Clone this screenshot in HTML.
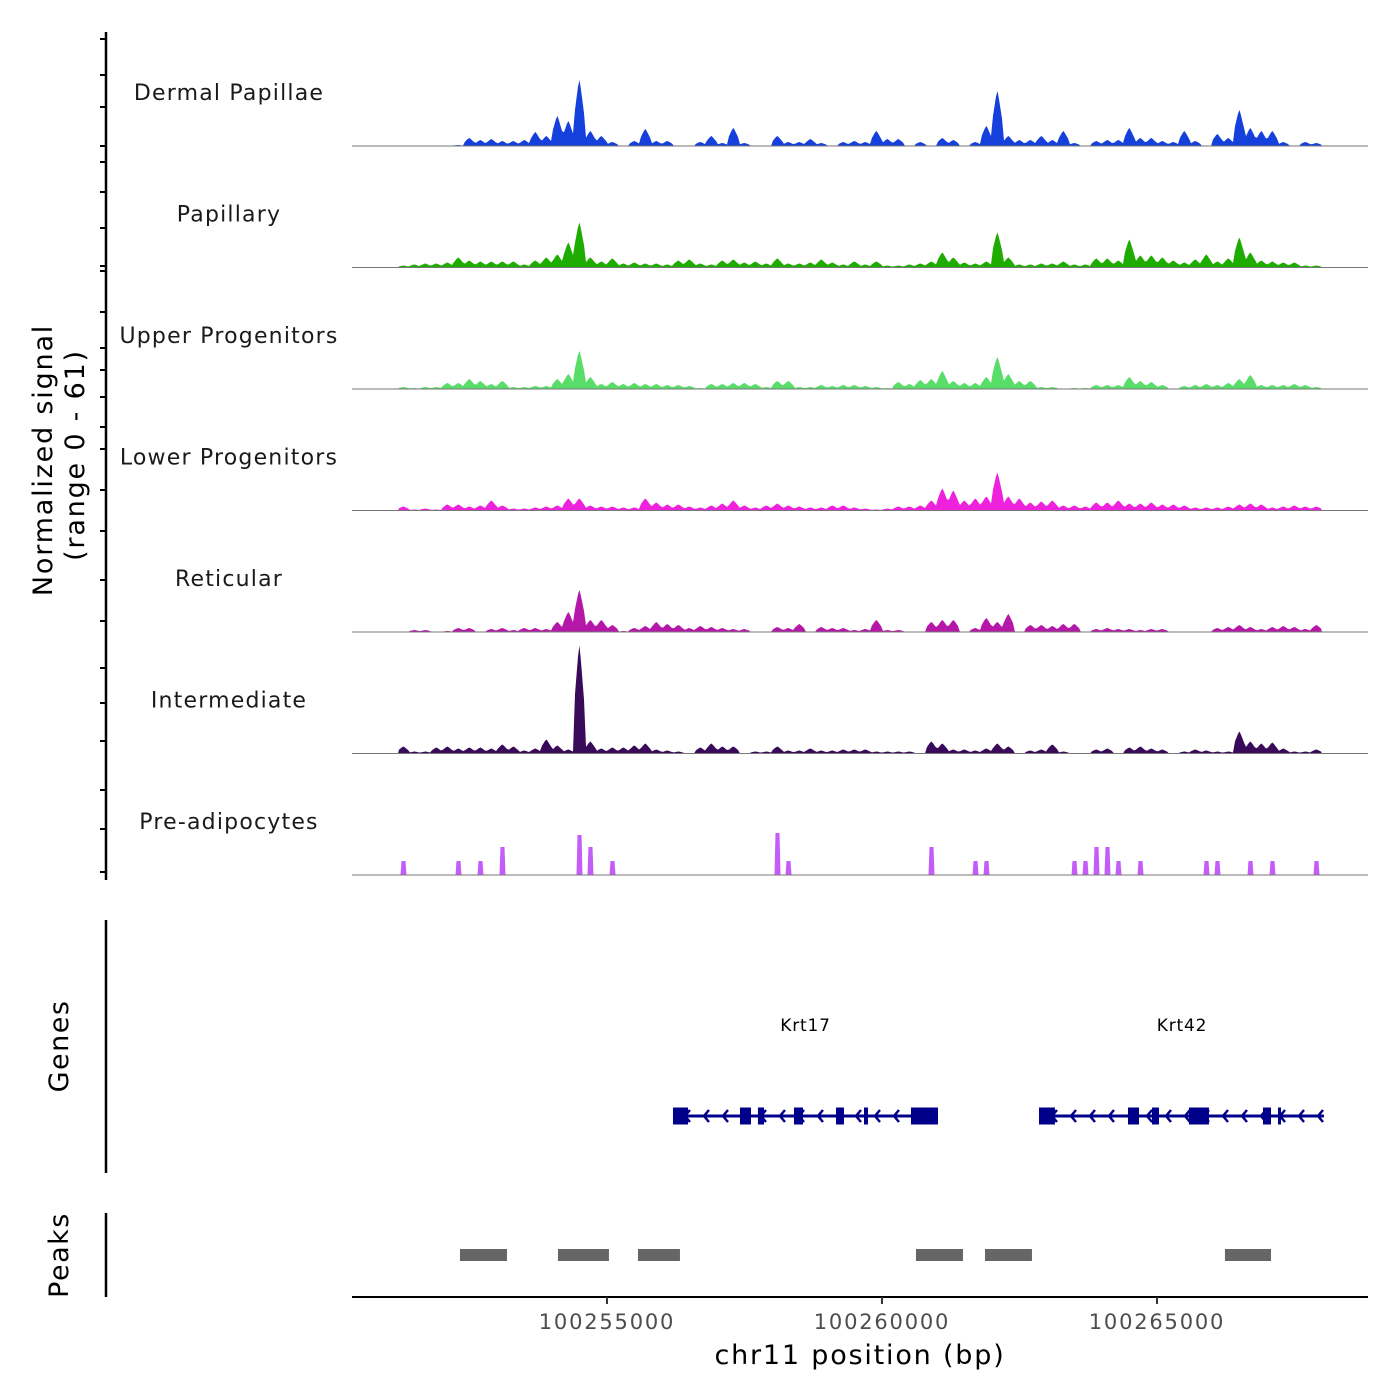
<!DOCTYPE html>
<html><head><meta charset="utf-8"><style>
html,body{margin:0;padding:0;background:#fff;width:1400px;height:1400px;overflow:hidden}
svg{display:block;font-family:"DejaVu Sans","Liberation Sans",sans-serif}
</style></head><body>
<svg id="chart" width="1400" height="1400" viewBox="0 0 1400 1400" xmlns="http://www.w3.org/2000/svg">
<rect x="0" y="0" width="1400" height="1400" fill="#fff"/>
<g id="tracks"></g>
<g id="left">
<line x1="106" y1="32" x2="106" y2="880" stroke="#000" stroke-width="2.5"/>
<line x1="106" y1="920" x2="106" y2="1173" stroke="#000" stroke-width="2.5"/>
<line x1="106" y1="1213" x2="106" y2="1297" stroke="#000" stroke-width="2.5"/>
<text transform="translate(52,460) rotate(-90)" text-anchor="middle" font-size="27" letter-spacing="1.8" fill="#000">Normalized signal</text>
<text transform="translate(84,455) rotate(-90)" text-anchor="middle" font-size="27" letter-spacing="1.8" fill="#000">(range 0 - 61)</text>
<text transform="translate(68,1046) rotate(-90)" text-anchor="middle" font-size="27" letter-spacing="1.5" fill="#000">Genes</text>
<text transform="translate(68,1255) rotate(-90)" text-anchor="middle" font-size="27" letter-spacing="1.5" fill="#000">Peaks</text>
</g>
<g id="genes"></g>
<g id="peaks"></g>
<g id="xaxis">
<line x1="352" y1="1297" x2="1368" y2="1297" stroke="#000" stroke-width="2"/>
<text x="860" y="1364" text-anchor="middle" font-size="27" letter-spacing="1.8" fill="#000">chr11 position (bp)</text>
</g>
</svg>
<script>
const NS = "http://www.w3.org/2000/svg";
const trackNames = ["Dermal Papillae","Papillary","Upper Progenitors","Lower Progenitors","Reticular","Intermediate","Pre-adipocytes"];
const trackColors = ["#1540dc","#1fac00","#58de68","#ee22dd","#b517a8","#3a0a5a","#c35cf8"];
const binStart = 100251200;
const binSize = 200;
const dermalPapillae = [0,0,0,0,0,1,8,6,7,5, 5,6,14,10,30,25,66,15,10,4, 0,5,17,5,5,0,0,4,10,3, 18,3,0,0,10,4,4,7,3,0, 4,5,4,15,7,7,0,4,0,8, 6,0,4,20,55,10,6,6,10,6, 15,3,0,5,6,6,18,8,8,5, 4,15,5,0,12,8,36,18,15,15, 4,0,4,3];
const papillary = [2,3,4,4,5,10,7,6,6,6, 6,3,7,10,13,25,45,10,6,9, 4,5,4,4,3,7,8,4,3,7, 8,5,6,4,9,4,4,5,8,5, 3,6,3,6,2,2,3,4,6,15, 10,5,4,6,35,10,3,3,4,4, 6,3,3,9,9,7,28,12,12,10, 7,5,8,13,6,9,30,15,7,6, 5,5,2,2];
const upperProgenitors = [2,1,2,2,6,6,10,8,5,8, 2,2,3,3,10,15,38,12,5,7, 5,6,5,5,4,4,3,1,5,5, 6,6,5,2,8,8,2,2,4,3, 4,4,3,2,1,7,5,9,10,18, 8,6,6,12,32,15,8,8,2,2, 0,1,1,4,4,4,12,8,7,4, 0,3,4,5,4,6,10,14,4,4, 4,5,4,2];
const lowerProgenitors = [4,1,2,1,6,6,4,5,10,5, 2,2,3,4,5,12,12,5,4,4, 3,3,12,8,6,6,4,3,5,7, 10,5,3,5,7,5,4,3,3,5, 5,3,2,1,2,4,4,5,10,22, 20,10,12,14,38,14,12,8,9,10, 5,5,4,8,8,10,7,7,8,6, 6,5,3,3,3,4,6,7,6,3, 4,5,4,4];
const reticular = [0,2,2,0,1,4,4,0,3,4, 2,4,4,3,10,20,42,12,12,7, 1,4,6,10,8,7,4,6,5,4, 3,3,0,0,5,4,8,0,5,4, 4,2,3,12,2,2,0,0,10,12, 12,0,4,14,10,18,0,7,7,6, 8,8,0,3,4,3,3,2,3,3, 0,0,0,0,4,5,7,5,3,5, 6,5,3,7];
const intermediate = [7,2,2,6,7,5,6,6,5,9, 7,3,5,14,8,4,108,12,5,6, 6,8,10,4,3,2,0,6,10,7, 7,0,2,2,7,3,3,5,3,3, 4,4,4,2,2,2,2,0,12,10, 4,4,3,5,10,7,0,3,4,9, 2,0,0,4,5,0,6,7,5,4, 0,2,4,3,2,2,22,12,10,11, 5,2,2,4];
const preAdipocytes = [14,0,0,0,0,14,0,14,0,28, 0,0,0,0,0,0,40,28,0,14, 0,0,0,0,0,0,0,0,0,0, 0,0,0,0,42,14,0,0,0,0, 0,0,0,0,0,0,0,0,28,0, 0,0,14,14,0,0,0,0,0,0, 0,14,14,28,28,14,0,14,0,0, 0,0,0,14,14,0,0,14,0,14, 0,0,0,14];
const trackValues = [dermalPapillae,papillary,upperProgenitors,lowerProgenitors,reticular,intermediate,preAdipocytes];
const yMax = 109;
const xTicks = [100255000,100260000,100265000];
const xTickLabels = ["100255000","100260000","100265000"];
const geneNames = ["Krt17","Krt42"];
const geneStarts = [100256200,100262873];
const geneEnds = [100261018,100268036];
const krt17Exons = [[100256200,100256473],[100257418,100257618],[100257745,100257855],[100258400,100258564],[100259164,100259309],[100259673,100259745],[100260527,100261018]];
const krt42Exons = [[100262855,100263145],[100264473,100264673],[100264909,100265036],[100265582,100265945],[100266927,100267073],[100267200,100267255]];
const geneExons = [krt17Exons,krt42Exons];
const peakStarts = [100252327,100254109,100255564,100260618,100261873,100266236];
const peakEnds = [100253182,100255036,100256327,100261473,100262727,100267073];

const X0 = 352, X1 = 1368, BP0 = 100250364, PXPB = 0.055;
function xScale(bp){ return X0 + (bp - BP0) * PXPB; }
const trackHeight = 121.5, firstBaseline = 146, plotH = 109;
function yScale(v, base){ return base - v / yMax * plotH; }
function mk(tag, attrs, parent){ const e = document.createElementNS(NS, tag); for (const k in attrs) e.setAttribute(k, attrs[k]); parent.appendChild(e); return e; }

const tracksG = document.getElementById('tracks');
trackValues.forEach((vals, t) => {
  const base = firstBaseline + t * trackHeight;
  const g = mk('g', {}, tracksG);
  
  
  let d = '';
  if (t === 6) {
    vals.forEach((v, i) => {
      if (v <= 0) return;
      const cx = xScale(binStart + (i + 0.5) * binSize);
      const top = yScale(v, base);
      d += `M${(cx-3).toFixed(1)},${base}L${(cx-2).toFixed(1)},${top.toFixed(1)}L${(cx+2).toFixed(1)},${top.toFixed(1)}L${(cx+3).toFixed(1)},${base}Z`;
    });
  } else {
    d = `M${xScale(binStart).toFixed(1)},${base}`;
    vals.forEach((v, i) => {
      const xa = xScale(binStart + i * binSize), xb = xScale(binStart + (i + 1) * binSize);
      const xm = (xa + xb) / 2;
      const top = yScale(v, base);
      if (v <= 0) { d += `L${(xa+1).toFixed(1)},${base}L${(xb-1).toFixed(1)},${base}`; return; }
      d += `L${(xa+1).toFixed(1)},${yScale(v*0.55, base).toFixed(1)}L${(xm-1.5).toFixed(1)},${yScale(v*0.9, base).toFixed(1)}L${xm.toFixed(1)},${top.toFixed(1)}L${(xm+1.5).toFixed(1)},${yScale(v*0.85, base).toFixed(1)}L${(xb-1).toFixed(1)},${yScale(v*0.5, base).toFixed(1)}`;
    });
    d += `L${xScale(binStart + vals.length * binSize).toFixed(1)},${base}Z`;
  }
  const p = mk('path', {d: d, fill: trackColors[t]}, g);
  
  
  const bl = mk('line', {x1: X0, x2: X1, y1: base, y2: base, stroke: '#777', 'stroke-width': 1}, g);
  
  
  const lab = mk('text', {x: 229, y: base - 46, 'text-anchor': 'middle', 'font-size': 22, 'letter-spacing': 1.2, fill: '#1a1a1a'}, g);
  
  
  lab.textContent = trackNames[t];
});

const leftG = document.getElementById('left');
[39,75,107,146,162,192,228,266,271,312,348,370,397,427,449,490,531,580,621,668,703,741,790,829,872].forEach(y => {
  const tk = mk('line', {x1: 100, x2: 106, y1: y, y2: y, stroke: '#000', 'stroke-width': 2}, leftG);
  
  
});

const genesG = document.getElementById('genes');
const gy = 1116;
geneNames.forEach((name, gi) => {
  const g = mk('g', {}, genesG);
  
  
  const xs = xScale(geneStarts[gi]), xe = xScale(geneEnds[gi]);
  const ln = mk('line', {x1: xs, x2: xe, y1: gy, y2: gy, stroke: '#00008b', 'stroke-width': 3}, g);
  
  
  for (let x = xs + 12; x < xe - 4; x += 19) {
    const ch = mk('path', {d: `M${x+5},${gy-6}L${x},${gy}L${x+5},${gy+6}`, stroke: '#00008b', 'stroke-width': 2.5, fill: 'none'}, g);
    
    
  }
  geneExons[gi].forEach(ex => {
    const a = xScale(ex[0]), b = xScale(ex[1]);
    const r = mk('rect', {x: a, y: gy - 8.5, width: Math.max(b - a, 3), height: 17, fill: '#00008b'}, g);
    
    
  });
  const t = mk('text', {x: (xs + xe) / 2, y: 1031, 'text-anchor': 'middle', 'font-size': 17, 'letter-spacing': 0.8, fill: '#000'}, g);
  
  
  t.textContent = name;
});

const peaksG = document.getElementById('peaks');
peakStarts.forEach((s, i) => {
  const a = xScale(s), b = xScale(peakEnds[i]);
  const r = mk('rect', {x: a, y: 1249, width: b - a, height: 12, fill: '#666'}, peaksG);
  
  
});

const xg = document.getElementById('xaxis');
xTicks.forEach((bp, i) => {
  const x = xScale(bp);
  const tk = mk('line', {x1: x, x2: x, y1: 1297, y2: 1304, stroke: '#333', 'stroke-width': 2}, xg);
  
  
  const t = mk('text', {x: x, y: 1329, 'text-anchor': 'middle', 'font-size': 21, 'letter-spacing': 1.8, fill: '#4d4d4d'}, xg);
  
  
  t.textContent = xTickLabels[i];
});
</script>
</body></html>
